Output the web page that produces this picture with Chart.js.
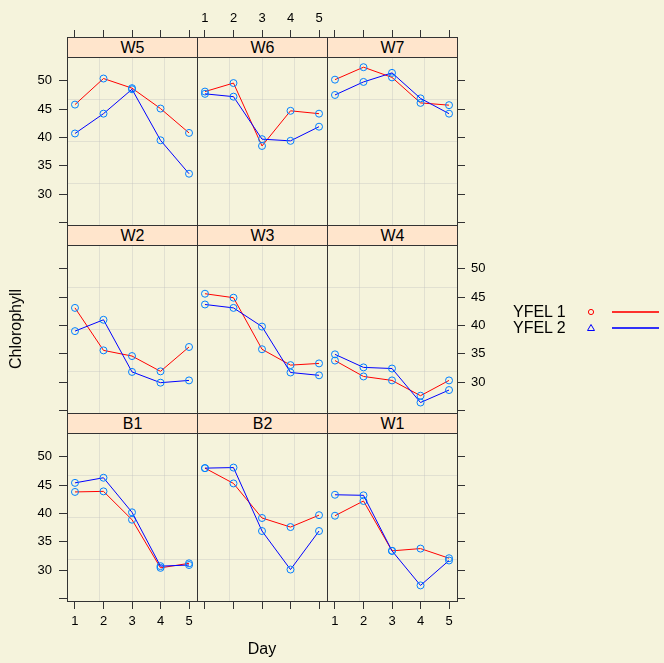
<!DOCTYPE html>
<html>
<head>
<meta charset="utf-8">
<script src="https://cdn.jsdelivr.net/npm/chart.js@4/dist/chart.umd.min.js"></script>
<style>
html,body{margin:0;padding:0;background:#F5F3DC;}
body{width:664px;height:663px;position:relative;overflow:hidden;font-family:"Liberation Sans",Arial,sans-serif;color:#000;}
canvas{position:absolute;}
.strip{position:absolute;background:#FFE5CC;border:1px solid #333;box-sizing:border-box;text-align:center;font-size:16px;line-height:19px;z-index:3;}
.lab{position:absolute;font-size:16px;white-space:nowrap;z-index:3;}
.legline{position:absolute;height:2px;width:47px;z-index:3;}
</style>
</head>
<body>
<script>
// ---------- data ----------
const days = [1, 2, 3, 4, 5];
const xTicks = [1, 2, 3, 4, 5];
const yTicks = [25, 30, 35, 40, 45, 50];
const yTickLabels = ['', '30', '35', '40', '45', '50'];
const panels = ['W5', 'W6', 'W7', 'W2', 'W3', 'W4', 'B1', 'B2', 'W1'];
const seriesNames = ['YFEL 1', 'YFEL 2'];
const xTitle = 'Day';
const yTitle = 'Chlorophyll';

const yfel1_W5 = [45.8, 50.4, 48.7, 45.1, 40.8];
const yfel2_W5 = [40.7, 44.2, 48.5, 39.5, 33.6];
const yfel1_W6 = [48.1, 49.6, 38.5, 44.7, 44.2];
const yfel2_W6 = [47.7, 47.2, 39.7, 39.4, 41.9];
const yfel1_W7 = [50.2, 52.4, 50.6, 46.1, 45.7];
const yfel2_W7 = [47.5, 49.8, 51.4, 46.9, 44.2];
const yfel1_W2 = [43.1, 35.6, 34.6, 31.9, 36.2];
const yfel2_W2 = [39.0, 41.0, 31.8, 29.9, 30.3];
const yfel1_W3 = [45.6, 44.9, 35.8, 33.0, 33.3];
const yfel2_W3 = [43.7, 43.1, 39.8, 31.7, 31.2];
const yfel1_W4 = [33.8, 31.0, 30.3, 27.6, 30.3];
const yfel2_W4 = [34.9, 32.6, 32.4, 26.4, 28.6];
const yfel1_B1 = [43.8, 43.9, 38.9, 30.4, 31.2];
const yfel2_B1 = [45.4, 46.3, 40.2, 30.7, 30.9];
const yfel1_B2 = [48.0, 45.3, 39.2, 37.6, 39.7];
const yfel2_B2 = [48.0, 48.1, 36.9, 30.1, 36.9];
const yfel1_W1 = [39.6, 42.2, 33.4, 33.8, 32.1];
const yfel2_W1 = [43.3, 43.2, 33.4, 27.3, 31.7];

const series1 = [yfel1_W5, yfel1_W6, yfel1_W7, yfel1_W2, yfel1_W3, yfel1_W4, yfel1_B1, yfel1_B2, yfel1_W1];
const series2 = [yfel2_W5, yfel2_W6, yfel2_W7, yfel2_W2, yfel2_W3, yfel2_W4, yfel2_B1, yfel2_B2, yfel2_W1];

// ---------- styling / layout ----------
const XMIN = 0.72, XMAX = 5.28, YMIN = 24.55, YMAX = 54.2;
const colLeft = [67, 197, 327];
const stripTop = [37, 225, 413];
const PW = 130, PH = 168, STRIP = 20;
const ML = 60, MR = 60, MT = 60, MB = 40;
const FRAME = '#333333';
const GRID = 'rgba(190,190,190,0.35)';
const LINE1 = '#FF0000', LINE2 = '#0000FF', PT = '#0080FF';

Chart.defaults.font.family = "'Liberation Sans', Arial, sans-serif";
Chart.defaults.color = '#000';

function tickAxis(pos, axis, showTicks, showLabels, size, tl, pad) {
  const isX = axis === 'x';
  return {
    type: 'linear', position: pos, axis: axis,
    min: isX ? XMIN : YMIN, max: isX ? XMAX : YMAX,
    afterBuildTicks: s => { s.ticks = (isX ? xTicks : yTicks).map(v => ({ value: v })); },
    afterFit: s => { if (isX) s.height = size; else s.width = size; },
    grid: { display: true, drawOnChartArea: false, drawTicks: true, tickLength: tl,
            color: showTicks ? FRAME : 'transparent', lineWidth: 1 },
    border: { display: true, color: FRAME, width: 1 },
    ticks: { display: true, color: showLabels ? '#000' : 'transparent', padding: pad,
             font: { size: 13 }, maxRotation: 0, minRotation: 0, autoSkip: false,
             callback: v => isX ? String(v) : yTickLabels[yTicks.indexOf(v)] }
  };
}
function gridAxis(axis) {
  const isX = axis === 'x';
  const lo = isX ? XMIN : YMIN, hi = isX ? XMAX : YMAX;
  return {
    type: 'linear', position: isX ? 'bottom' : 'left', axis: axis, min: lo, max: hi,
    afterBuildTicks: s => { s.ticks = [1, 2, 3].map(k => ({ value: lo + k * (hi - lo) / 4 })); },
    afterFit: s => { if (isX) s.height = 0; else s.width = 0; },
    grid: { display: true, drawOnChartArea: true, drawTicks: false, color: GRID, lineWidth: 1 },
    border: { display: false },
    ticks: { display: false }
  };
}

panels.forEach((name, i) => {
  const row = Math.floor(i / 3), col = i % 3;
  const cv = document.createElement('canvas');
  cv.width = ML + PW + MR; cv.height = MT + PH + MB;
  cv.style.left = (colLeft[col] - ML) + 'px';
  cv.style.top = (stripTop[row] + STRIP - MT) + 'px';
  document.body.appendChild(cv);

  const strip = document.createElement('div');
  strip.className = 'strip';
  strip.style.left = colLeft[col] + 'px';
  strip.style.top = stripTop[row] + 'px';
  strip.style.width = (PW + 1) + 'px';
  strip.style.height = (STRIP + 1) + 'px';
  strip.textContent = name;
  document.body.appendChild(strip);

  new Chart(cv, {
    type: 'line',
    data: {
      datasets: [
        { label: seriesNames[0], data: days.map((d, k) => ({ x: d, y: series1[i][k] })),
          borderColor: LINE1, borderWidth: 1, pointStyle: 'circle', pointRadius: 3.5,
          pointBorderColor: PT, pointBackgroundColor: 'rgba(0,0,0,0)', pointBorderWidth: 1,
          fill: false, tension: 0, order: 2 },
        { label: seriesNames[1], data: days.map((d, k) => ({ x: d, y: series2[i][k] })),
          borderColor: LINE2, borderWidth: 1, pointStyle: 'circle', pointRadius: 3.5,
          pointBorderColor: PT, pointBackgroundColor: 'rgba(0,0,0,0)', pointBorderWidth: 1,
          fill: false, tension: 0, order: 1 }
      ]
    },
    options: {
      responsive: false, animation: false, devicePixelRatio: 1,
      layout: { padding: 0 },
      plugins: { legend: { display: false }, tooltip: { enabled: false } },
      events: [],
      scales: {
        x: tickAxis('bottom', 'x', row === 2, row === 2 && col !== 1, MB, 8, 5),
        xTop: tickAxis('top', 'x', row === 0, row === 0 && col === 1, MT, 27, 4),
        xg: gridAxis('x'),
        y: tickAxis('left', 'y', col === 0, col === 0 && row !== 1, ML, 8, 7),
        yRight: tickAxis('right', 'y', col === 2, col === 2 && row === 1, MR, 8, 6),
        yg: gridAxis('y')
      }
    }
  });
});

// axis titles
const yl = document.createElement('div');
yl.className = 'lab'; yl.textContent = yTitle;
yl.style.left = '16px'; yl.style.top = '329px';
yl.style.transform = 'translate(-50%,-50%) rotate(-90deg)';
document.body.appendChild(yl);
const xl = document.createElement('div');
xl.className = 'lab'; xl.textContent = xTitle;
xl.style.left = '262px'; xl.style.top = '649px';
xl.style.transform = 'translate(-50%,-50%)';
document.body.appendChild(xl);

// legend
const legY = [312, 328];
const legCol = ['rgba(255,0,0,0.8)', 'rgba(0,0,255,0.8)'];
seriesNames.forEach((s, k) => {
  const t = document.createElement('div');
  t.className = 'lab'; t.textContent = s;
  t.style.left = '513px'; t.style.top = legY[k] + 'px';
  t.style.transform = 'translateY(-50%)';
  t.style.lineHeight = '16px';
  document.body.appendChild(t);
  const ln = document.createElement('div');
  ln.className = 'legline';
  ln.style.left = '612px'; ln.style.top = (legY[k] - 1) + 'px';
  ln.style.background = legCol[k];
  document.body.appendChild(ln);
});
const svgNS = 'http://www.w3.org/2000/svg';
const svg = document.createElementNS(svgNS, 'svg');
svg.setAttribute('width', '40'); svg.setAttribute('height', '40');
svg.style.position = 'absolute'; svg.style.left = '570px'; svg.style.top = '300px';
svg.innerHTML =
  '<circle cx="21" cy="12" r="2.6" fill="none" stroke="' + LINE1 + '" stroke-width="1"/>' +
  '<polygon points="21,24.5 24.5,30.5 17.5,30.5" fill="none" stroke="' + LINE2 + '" stroke-width="1"/>';
document.body.appendChild(svg);
</script>
</body>
</html>
